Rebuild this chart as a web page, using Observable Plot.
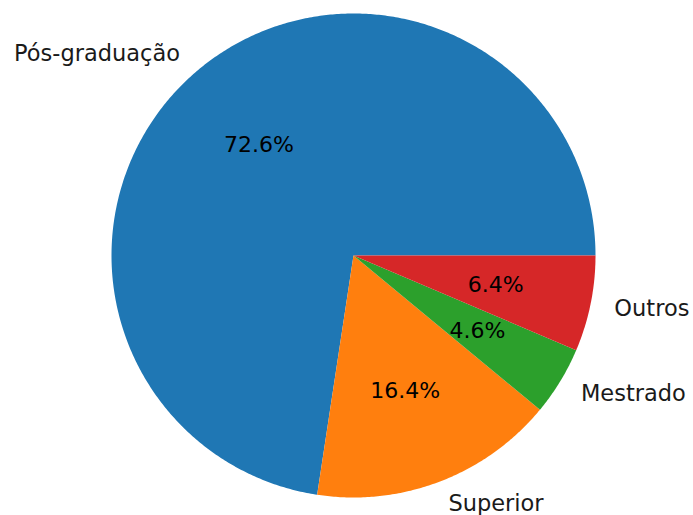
<!DOCTYPE html>
<html>
<head>
<meta charset="utf-8">
<script src="https://cdn.jsdelivr.net/npm/d3@7"></script>
<script src="https://cdn.jsdelivr.net/npm/@observablehq/plot@0.6"></script>
<style>
  html, body { margin: 0; padding: 0; background: #fff; }
</style>
</head>
<body>
<div id="chart"></div>
<script>
const categories = ["Pós-graduação", "Superior", "Mestrado", "Outros"];
const shares = [72.6, 16.4, 4.6, 6.4];
const colors = ["#1f77b4", "#ff7f0e", "#2ca02c", "#d62728"];

// Build wedge polygons (unit radius, start at 0°, counter-clockwise)
const total = d3.sum(shares);
const wedgePts = [];
const labels = [];
let cum = 0;
categories.forEach((cat, i) => {
  const a0 = 2 * Math.PI * cum / total;
  const a1 = 2 * Math.PI * (cum + shares[i]) / total;
  wedgePts.push({cat, x: 0, y: 0});
  const n = Math.max(2, Math.ceil((a1 - a0) / (Math.PI / 360)));
  for (let k = 0; k <= n; k++) {
    const a = a0 + (a1 - a0) * k / n;
    wedgePts.push({cat, x: Math.cos(a), y: Math.sin(a)});
  }
  wedgePts.push({cat, x: 0, y: 0});
  const am = (a0 + a1) / 2;
  labels.push({
    cat,
    lx: 1.1 * Math.cos(am), ly: 1.1 * Math.sin(am),
    px: 0.6 * Math.cos(am), py: 0.6 * Math.sin(am),
    pct: shares[i].toFixed(1) + "%"
  });
  cum += shares[i];
});

const W = 693, H = 515, R = 242, CX = 353, CY = 255;

const chart = Plot.plot({
  width: W,
  height: H,
  margin: 0,
  x: {domain: [-CX / R, (W - CX) / R], axis: null},
  y: {domain: [-(H - CY) / R, CY / R], axis: null},
  color: {domain: categories, range: colors},
  style: {fontFamily: "DejaVu Sans", background: "#fff"},
  marks: [
    Plot.line(wedgePts, {x: "x", y: "y", z: "cat", fill: "cat", stroke: null, curve: "linear"}),
    Plot.text(labels, {x: "px", y: "py", text: "pct", fontSize: 22, fill: "#000", textAnchor: "middle"}),
    Plot.text(labels.filter(d => d.lx < 0), {x: "lx", y: "ly", text: "cat", fontSize: 22.5, fill: "#1a1a1a", textAnchor: "end"}),
    Plot.text(labels.filter(d => d.lx >= 0), {x: "lx", y: "ly", text: "cat", fontSize: 22.5, fill: "#1a1a1a", textAnchor: "start"})
  ]
});
document.getElementById("chart").appendChild(chart);
</script>
</body>
</html>
